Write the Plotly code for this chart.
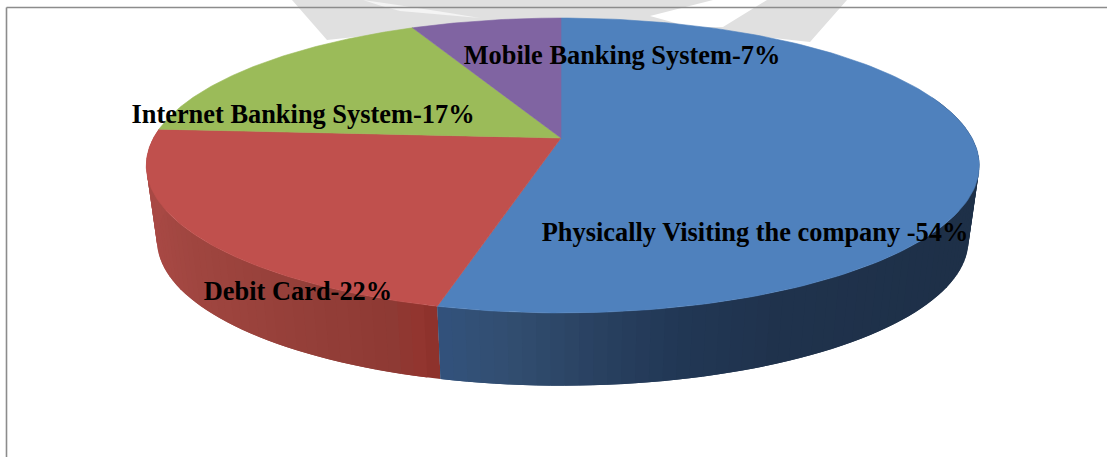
import numpy as np
import plotly.graph_objects as go

# Survey shares, clockwise from twelve o'clock
categories = ["Physically Visiting the company", "Debit Card", "Internet Banking System", "Mobile Banking System"]
shares = [54, 22, 17, 7]
label_texts = ["Physically Visiting the company -54%", "Debit Card-22%",
               "Internet Banking System-17%", "Mobile Banking System-7%"]

# Look of the tilted disc
TOP_COLORS = ["#4F81BD", "#C0504D", "#9BBB59", "#8064A2"]
LABEL_XY = [(755, 234.5), (298, 293.5), (303, 116.5), (622, 57.5)]
SIDE_STOPS = {
    0: ([443, 450, 520, 600, 680, 780, 975],
        [(46, 78, 122), (50, 82, 124), (50, 78, 112), (42, 66, 98), (34, 56, 86), (32, 51, 77), (30, 48, 72)]),
    1: ([146, 200, 300, 400, 432, 443],
        [(170, 74, 70), (160, 70, 64), (150, 64, 58), (142, 58, 52), (148, 52, 46), (140, 50, 44)]),
}


def project_top(frac):
    """Perspective projection of the disc's top rim; frac runs clockwise from the top."""
    t = 2 * np.pi * np.asarray(frac, dtype=float)
    u, v = np.sin(t), np.cos(t)
    w = 1 + 0.1864 * v
    return 561 + np.where(u < 0, 407.5, 411) * u / w, (138 - 116.6 * v) / w


def project_bottom(frac):
    x, y = project_top(frac)
    return 561 + (x - 561) * 0.974, 240 + (y - 165) * 0.985


def shade(idx, x):
    xs, cols = SIDE_STOPS[idx]
    rgb = [np.interp(x, xs, [c[k] for c in cols]) for k in range(3)]
    return "rgb(%d,%d,%d)" % tuple(rgb)


fig = go.Figure()
edges = np.cumsum([0] + shares) / sum(shares)

# Side wall: each quad reaches over the next step so no seams show between them
for i in (1, 0):
    n = max(int((edges[i + 1] - edges[i]) * 220), 8)
    fr = np.linspace(edges[i], edges[i + 1], n + 1)
    step = fr[1] - fr[0]
    for a in fr[:-1]:
        if np.cos(2 * np.pi * (a + step / 2)) > 0.3:
            continue
        b = min(a + 2 * step, edges[i + 1])
        xt, yt = project_top([a, b])
        xb, yb = project_bottom([a, b])
        col = shade(i, (xt[0] + xb[0]) / 2)
        fig.add_trace(go.Scatter(
            x=[xt[0], xt[1], xb[1], xb[0], xt[0]], y=[yt[0], yt[1], yb[1], yb[0], yt[0]],
            mode="none", fill="toself", fillcolor=col,
            hoverinfo="skip", showlegend=False))

# Top face wedges
for i, name in enumerate(categories):
    fr = np.linspace(edges[i], edges[i + 1], 160)
    x, y = project_top(fr)
    cx, cy = project_top([0.0])[0], 138
    fig.add_trace(go.Scatter(
        x=np.r_[cx, x, cx], y=np.r_[cy, y, cy], name=name,
        mode="lines", fill="toself", fillcolor=TOP_COLORS[i],
        line=dict(color=TOP_COLORS[i], width=0.6), hoverinfo="name", showlegend=False))

# Slice captions
fig.add_trace(go.Scatter(
    x=[p[0] for p in LABEL_XY], y=[p[1] for p in LABEL_XY], text=label_texts,
    mode="text", textposition="middle center", hoverinfo="skip", showlegend=False,
    textfont=dict(family="Liberation Serif", size=26.4, color="#000000", weight="bold")))

GRAY = "#E0E0E0"
shapes = [
    # Pale page decoration behind the frame
    dict(type="path", layer="below", fillcolor=GRAY, line_width=0,
         path="M292,0 L327,40 L420,30 L561,20 L700,30 L810,42 L847,0 Z"),
    dict(type="path", layer="below", fillcolor="#F4F4F4", line_width=0,
         path="M363,0 Q420,8 480,18 L400,11 Q380,6 363,0 Z"),
    dict(type="path", layer="below", fillcolor="#FFFFFF", line_width=0,
         path="M650,16 L713,0 L767,0 L723,27 L690,27 Z"),
    # Frame: top and left edges
    dict(type="line", x0=6.5, x1=1107, y0=7.5, y1=7.5, layer="below", line=dict(color="#8C8C8C", width=1.6)),
    dict(type="line", x0=6.5, x1=6.5, y0=7.5, y1=457, layer="below", line=dict(color="#8C8C8C", width=1.6)),
]

fig.update_layout(
    width=1107, height=457, margin=dict(l=0, r=0, t=0, b=0),
    paper_bgcolor="#FFFFFF", plot_bgcolor="#FFFFFF", showlegend=False,
    xaxis=dict(range=[0, 1107], visible=False, fixedrange=True),
    yaxis=dict(range=[457, 0], visible=False, fixedrange=True),
    shapes=shapes,
)
fig.write_html("out.html", config=dict(displayModeBar=False))
